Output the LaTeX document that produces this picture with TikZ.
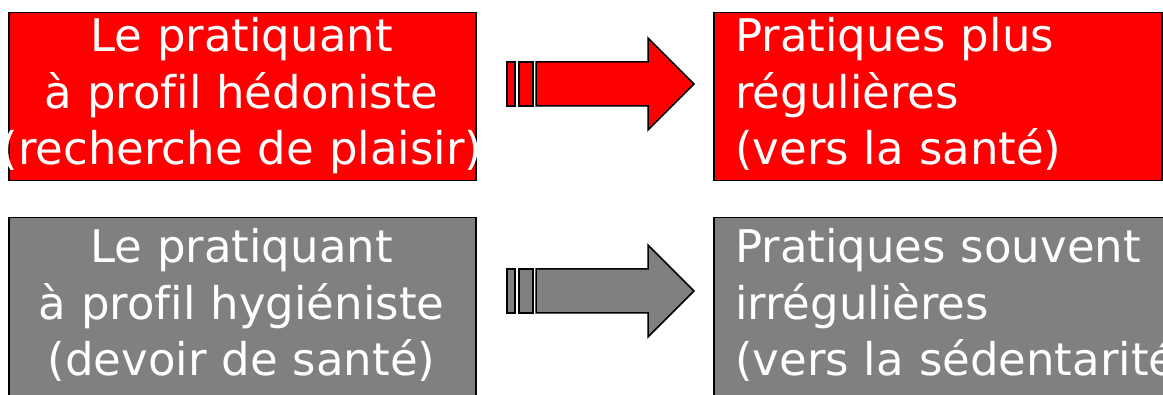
\documentclass[tikz,border=0pt]{standalone}
\usepackage{fontspec}
\setmainfont[Ligatures=NoCommon]{DejaVu Sans}
\definecolor{boxred}{RGB}{255,0,0}
\definecolor{boxgray}{RGB}{128,128,128}
\newcommand\stripedarrow[2]{%
  \draw[arrowline, fill=#1] (507,#2-22) rectangle (515,#2+22);
  \draw[arrowline, fill=#1] (519,#2-22) rectangle (533,#2+22);
  \draw[arrowline, fill=#1] (536,#2-22) -- (648,#2-22) -- (648,#2-46) -- (694,#2)
     -- (648,#2+46) -- (648,#2+22) -- (536,#2+22) -- cycle;
}
\begin{document}
\begin{tikzpicture}[x=1pt,y=-1pt,
  box/.style={draw=black, line width=1.5pt, inner sep=0pt, anchor=north west,
              minimum width=467pt, minimum height=168pt},
  arrowline/.style={draw=black, line width=1.5pt, line join=miter},
  txt/.style={text=white, font=\fontsize{45}{56.5}\selectfont, inner sep=0pt, text width=640pt}]
\useasboundingbox (0,0) rectangle (1163,395);
\clip (0,0) rectangle (1163,395);
% boxes
\node[box, fill=boxred] (hedo) at (8,12) {};
\node[box, fill=boxred, minimum width=448pt] (regul) at (713,12) {};
\node[box, fill=boxgray, minimum height=200pt] (hygi) at (8,217) {};
\node[box, fill=boxgray, minimum width=470pt, minimum height=200pt] (irreg) at (713,217) {};
% texts
\node[txt, align=center, anchor=base] (thedo) at (241.5,52) {Le pratiquant\\à profil hédoniste\\(recherche de plaisir)};
\node[txt, align=left, anchor=base west] (tregul) at (735,52) {Pratiques plus\\régulières\\(vers la santé)};
\node[txt, align=center, anchor=base] (thygi) at (241.5,263) {Le pratiquant\\à profil hygiéniste\\(devoir de santé)};
\node[txt, align=left, anchor=base west] (tirreg) at (735,263) {Pratiques souvent\\irrégulières\\(vers la sédentarité)};
% arrows
\stripedarrow{boxred}{84}
\stripedarrow{boxgray}{291}
\end{tikzpicture}
\end{document}
